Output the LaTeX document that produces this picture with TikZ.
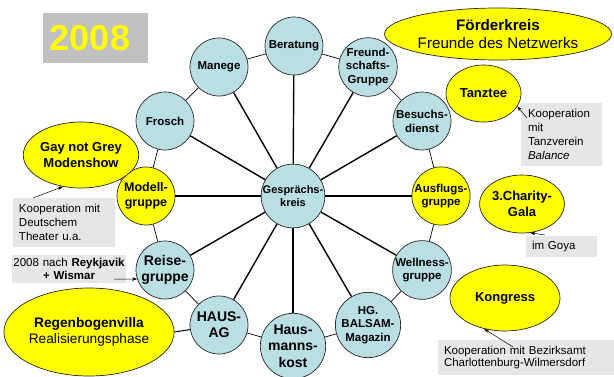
\documentclass[tikz,border=0pt]{standalone}
\usepackage{fontspec}
\setmainfont{Liberation Sans}
\usetikzlibrary{shapes.geometric,arrows.meta}
\definecolor{cblue}{RGB}{185,223,227}
\definecolor{cyell}{RGB}{255,255,0}
\definecolor{cnote}{RGB}{230,230,230}
\definecolor{cbox}{RGB}{192,192,192}
\tikzset{
  hub/.style={circle, draw=black!85, line width=0.7pt, fill=cblue, minimum size=58pt, inner sep=0pt, align=center,
    font=\fontsize{11.5}{13.8}\selectfont\bfseries},
  yhub/.style={hub, fill=cyell},
  bighub/.style={hub, font=\fontsize{14}{16.3}\selectfont\bfseries},
  yell/.style={ellipse, draw=black!85, line width=0.7pt, fill=cyell, inner sep=0pt, align=center},
  note/.style={fill=cnote, inner sep=0pt, font=\fontsize{11.5}{14}\selectfont},
  spoke/.style={line width=1.4pt},
  ring/.style={line width=0.7pt},
  arr/.style={-{Stealth[length=5pt,width=3.5pt]}, line width=0.5pt}
}
\begin{document}
\begin{tikzpicture}[x=1pt,y=-1pt]
\useasboundingbox (0,0) rectangle (614,376);
\fill[white] (0,0) rectangle (614,376);

% year box
\node[fill=cbox, minimum width=105pt, minimum height=50pt, inner sep=0pt,
      text=cyell, font=\fontsize{36}{40}\selectfont\bfseries] (y2008) at (95.5,38) {2008\hspace*{11pt}};

% hub
\node[hub, font=\fontsize{11}{12.6}\selectfont\bfseries] (c) at (293,196) {Gesprächs-\\kreis};

% ring nodes
\node[hub] (ber) at (294,46) {Beratung};
\node[hub] (fre) at (368,67) {Freund-\\schafts-\\Gruppe};
\node[hub] (bes) at (422,121) {Besuchs-\\dienst};
\node[yhub] (aus) at (441,196) {Ausflugs-\\gruppe};
\node[hub] (wel) at (422,270) {Wellness-\\gruppe};
\node[hub] (hg) at (368,325) {HG.\\BALSAM-\\Magazin};
\node[bighub] (hmk) at (293,346) {Haus-\\manns-\\kost};
\node[bighub] (hag) at (219,325) {HAUS-\\AG};
\node[bighub] (rei) at (165,270) {Reise-\\gruppe};
\node[yhub, font=\fontsize{12.5}{15}\selectfont\bfseries] (mod) at (146,196) {Modell-\\gruppe};
\node[hub] (fro) at (165,121) {Frosch};
\node[hub] (man) at (219,67) {Manege};

% spokes
\foreach \n in {ber,fre,bes,aus,wel,hg,hmk,hag,rei,mod,fro,man}
  \draw[spoke] (c) -- (\n);

% ring
\draw[ring] (ber) -- (fre);
\draw[ring] (fre) -- (bes);
\draw[ring] (bes) -- (aus);
\draw[ring] (aus) -- (wel);
\draw[ring] (wel) -- (hg);
\draw[ring] (hg) -- (hmk);
\draw[ring] (hmk) -- (hag);
\draw[ring] (hag) -- (rei);
\draw[ring] (rei) -- (mod);
\draw[ring] (mod) -- (fro);
\draw[ring] (fro) -- (man);
\draw[ring] (man) -- (ber);

% yellow ellipses
\node[yell, minimum width=190pt, minimum height=52pt, font=\fontsize{15.2}{18}\selectfont] (foe) at (498,34)
  {\textbf{Förderkreis}\\Freunde des Netzwerks};
\node[yell, minimum width=75pt, minimum height=57pt, font=\fontsize{13}{15}\selectfont\bfseries] (tan) at (483.5,93.5) {Tanztee};
\node[yell, minimum width=78pt, minimum height=58pt, font=\fontsize{13}{16.5}\selectfont\bfseries] (cha) at (522,204) {3.Charity-\\Gala};
\node[yell, minimum width=110pt, minimum height=66pt, font=\fontsize{13}{15}\selectfont\bfseries] (kon) at (505,298) {Kongress};
\node[yell, minimum width=86pt, minimum height=66pt, font=\fontsize{13}{15.5}\selectfont\bfseries] (gay) at (81,155) {Gay not Grey\\Modenshow};
\node[yell, minimum width=130pt, minimum height=88pt, font=\fontsize{13.7}{16}\selectfont] (reg) at (89,332)
  {\textbf{Regenbogenvilla}\\Realisierungsphase};

\draw[ring] (gay) -- (mod);
\draw[line width=1pt] (reg.east) -- (hag);

% notes
\node[note, text width=67pt, inner xsep=7pt, minimum height=63pt, align=left] (ntan) at (561.5,134.5)
  {Kooperation\\mit\\Tanzverein\\\textit{Balance}};
\node[note, text width=59pt, inner xsep=6pt, minimum height=21pt, align=left] (ncha) at (561.5,246.5) {im Goya};
\node[note, text width=167pt, inner xsep=6pt, minimum height=35pt, align=left, font=\fontsize{11.5}{12.6}\selectfont] (nkon) at (527.5,357.5)
  {Kooperation mit Bezirksamt\\Charlottenburg-Wilmersdorf};
\node[note, text width=90pt, inner xsep=6pt, minimum height=49pt, align=left] (ngay) at (64,222.5)
  {Kooperation mit\\Deutschem\\Theater u.a.};
\node[note, text width=114pt, inner xsep=0pt, minimum height=28pt, align=center, font=\fontsize{11.5}{13}\selectfont] (nrei) at (69,269)
  {2008 nach \textbf{Reykjavik}\\\textbf{+ Wismar}};

% arrows
\coordinate (atan) at (527,118);
\coordinate (acha) at (545,235);
\coordinate (akon) at (513,347);
\coordinate (agay) at (33,198);
\coordinate (arei) at (114,279);
\draw[arr] (atan) -- (tan.-21);
\draw[arr] (acha) -- (cha.-74);
\draw[arr] (akon) -- (kon.-124);
\draw[arr] (agay) -- (gay.-120);
\draw[arr] (arei) -- (rei.-162);
\end{tikzpicture}
\end{document}
